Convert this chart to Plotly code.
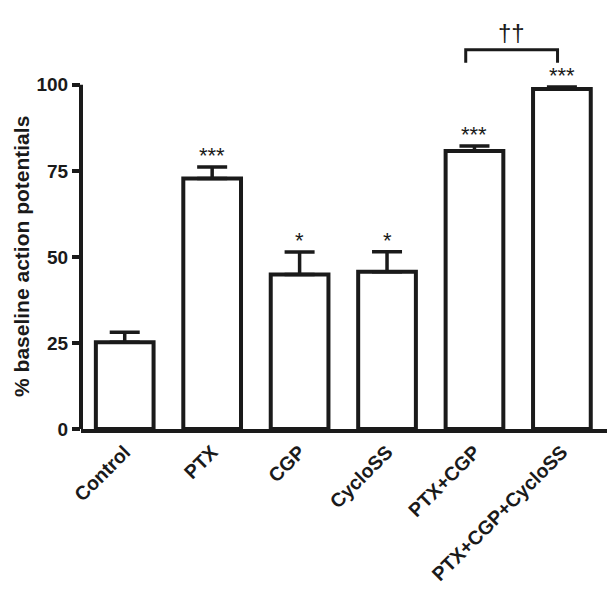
import plotly.graph_objects as go

categories = ["Control", "PTX", "CGP", "CycloSS", "PTX+CGP", "PTX+CGP+CycloSS"]
means = [25.2, 72.8, 44.9, 45.7, 80.8, 98.8]
sem = [2.9, 3.3, 6.5, 5.8, 1.4, 0.6]
stars = ["", "***", "*", "*", "***", "***"]
y_ticks = [0, 25, 50, 75, 100]

FONT = "Liberation Sans, Arial, sans-serif"
INK = "#1a1a1a"

fig = go.Figure()
fig.add_trace(
    go.Bar(
        x=list(range(len(categories))),
        y=means,
        width=0.66,
        marker=dict(color="white", line=dict(color=INK, width=4)),
        error_y=dict(
            type="data",
            symmetric=False,
            array=sem,
            arrayminus=[0] * len(sem),
            color=INK,
            thickness=3.5,
            width=15,
        ),
        showlegend=False,
    )
)

for i, s in enumerate(stars):
    if s:
        fig.add_annotation(
            x=i, y=means[i] + sem[i], text=s, showarrow=False,
            yanchor="bottom", yshift=-3,
            font=dict(family=FONT, size=22, color=INK),
        )

# significance bracket between PTX+CGP and PTX+CGP+CycloSS
bx0, bx1 = 4 - 0.1, 5 - 0.05
fig.add_shape(
    type="path",
    path=f"M {bx0},106.4 L {bx0},110.2 L {bx1},110.2 L {bx1},106.4",
    xref="x", yref="y",
    line=dict(color=INK, width=3),
)
fig.add_annotation(
    x=(bx0 + bx1) / 2, y=110.2, text="††", showarrow=False,
    yanchor="bottom", yshift=2,
    font=dict(family=FONT, size=24, color=INK),
)

# y axis line only spans 0..100
fig.add_shape(
    type="line", xref="paper", yref="y", x0=0, x1=0, y0=0, y1=100,
    line=dict(color=INK, width=4),
)

# y axis title centred on the 0..100 span
fig.add_annotation(
    xref="paper", yref="y", x=0, y=50, xshift=-59,
    text="<b>% baseline action potentials</b>", textangle=-90,
    showarrow=False, xanchor="center", yanchor="middle",
    font=dict(family=FONT, size=21, color=INK),
)

fig.update_layout(
    width=615,
    height=594,
    margin=dict(l=73, r=13, t=8, b=173),
    plot_bgcolor="white",
    paper_bgcolor="white",
    font=dict(family=FONT, color=INK),
)
fig.update_xaxes(
    range=[-0.5, 5.55],
    tickmode="array",
    tickvals=list(range(len(categories))),
    ticktext=categories,
    tickangle=-45,
    tickfont=dict(family=FONT, size=19.5, weight="bold"),
    showline=True,
    linecolor=INK,
    linewidth=4,
    showgrid=False,
    zeroline=False,
    ticks="",
)
fig.update_yaxes(
    range=[0, 120],
    tickmode="array",
    tickvals=y_ticks,
    ticktext=[str(v) for v in y_ticks],
    tickfont=dict(family=FONT, size=19, weight="bold"),
    ticks="outside",
    ticklen=8,
    tickwidth=3.5,
    tickcolor=INK,
    showline=False,
    showgrid=False,
    zeroline=False,
)

fig.write_html("out.html")
